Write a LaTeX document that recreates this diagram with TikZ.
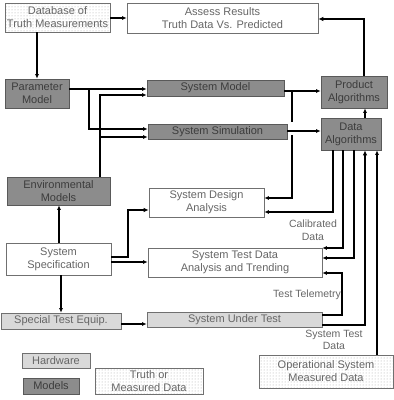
\documentclass[tikz,border=0pt]{standalone}
\usepackage{fontspec}
\setmainfont{Liberation Sans}
\usetikzlibrary{arrows.meta,patterns}
\definecolor{darkfill}{HTML}{8C8C8C}
\definecolor{lightfill}{HTML}{D9D9D9}
\definecolor{boxline}{HTML}{707070}
\definecolor{txtgray}{HTML}{666666}
\definecolor{txtdark}{HTML}{3C3C3C}
\tikzset{
  box/.style={draw=boxline, line width=0.6pt, inner sep=0pt, align=center,
    font=\fontsize{11}{13}\selectfont, text=txtgray},
  whitebox/.style={box, fill=white},
  modelbox/.style={box, fill=darkfill, draw=black!65, text=txtdark},
  hwbox/.style={box, fill=lightfill},
  truthbox/.style={box, pattern=dots, pattern color=black!35},
  conn/.style={line width=1.2pt},
  thick conn/.style={line width=1.9pt},
  arr/.style={conn, -{Latex[length=4.5pt,width=4pt]}},
  thick arr/.style={thick conn, -{Latex[length=5pt,width=4.5pt]}},
  lbl/.style={align=center, font=\fontsize{10.5}{12.5}\selectfont, text=txtgray, inner sep=0pt}
}
\begin{document}
\begin{tikzpicture}[x=1pt,y=-1pt]
\useasboundingbox (0,0) rectangle (394,400);
% boxes
\node[truthbox, minimum width=105pt, minimum height=29pt] (db) at (57.5,17.5) {Database of\\Truth Measurements};
\node[whitebox, minimum width=191pt, minimum height=30pt] (assess) at (222.5,18) {Assess Results\\Truth Data Vs. Predicted};
\node[modelbox, minimum width=64pt, minimum height=29pt] (param) at (37,93.5) {Parameter\\Model};
\node[modelbox, minimum width=137pt, minimum height=16pt] (sm) at (215.5,88) {System Model};
\node[modelbox, minimum width=139pt, minimum height=15pt] (ssim) at (217.5,131.5) {System Simulation};
\node[modelbox, minimum width=66pt, minimum height=32pt] (prod) at (354,92) {Product\\Algorithms};
\node[modelbox, minimum width=60pt, minimum height=32pt] (dalg) at (351,134) {Data\\Algorithms};
\node[modelbox, minimum width=103pt, minimum height=28pt] (env) at (58.5,191) {Environmental\\Models};
\node[whitebox, minimum width=115pt, minimum height=29pt] (sda) at (206.5,202.5) {System Design\\Analysis};
\node[whitebox, minimum width=105pt, minimum height=32pt] (spec) at (58.5,259) {System\\Specification};
\node[whitebox, minimum width=174pt, minimum height=29pt] (stdat) at (235,262.5) {System Test Data\\Analysis and Trending};
\node[hwbox, minimum width=120pt, minimum height=16pt] (ste) at (61,321) {Special Test Equip.};
\node[hwbox, minimum width=175pt, minimum height=15pt] (sut) at (234.5,319.5) {System Under Test};
\node[hwbox, minimum width=68pt, minimum height=15pt] (hw) at (56,360.5) {Hardware};
\node[modelbox, minimum width=56pt, minimum height=16pt] (mod) at (51,386) {Models};
\node[truthbox, minimum width=108pt, minimum height=26pt] (tmd) at (149,381) {Truth or\\Measured Data};
\node[truthbox, minimum width=134pt, minimum height=33pt] (osmd) at (326,371.5) {Operational System\\Measured Data};
% labels
\node[lbl] (lcal) at (313,230) {Calibrated\\Data};
\node[lbl] (ltel) at (307,295) {Test Telemetry};
\node[lbl] (lstd) at (334,340) {System Test\\Data};
% bend coordinates
\coordinate (pb) at (89,89);
\coordinate (eb) at (100,95);
\coordinate (smb) at (292,91);
\coordinate (ssb) at (292,135);
\coordinate (c333) at (333,212);
\coordinate (c343) at (343,248);
\coordinate (c354) at (354,258);
\coordinate (ctel) at (342,315);
\coordinate (cstd) at (365,325);
\coordinate (cpa) at (364,19);
\coordinate (csp) at (128,257);
% connectors
\draw[arr] (db.east |- 0,18) -- (assess.west |- 0,18);
\draw[arr] (db.south -| 37,0) -- (param.north -| 37,0);
\draw[arr] (param.east |- pb) -- (sm.west |- pb);
\draw[arr] (pb) -- (pb |- 0,129) -- (ssim.west |- 0,129);
\draw[arr] (env.north -| eb) -- (eb) -- (sm.west |- eb);
\draw[arr] (eb |- 0,137) -- (ssim.west |- 0,137);
\draw[arr] (sm.east |- smb) -- (prod.west |- smb);
\draw[conn] (smb) -- (smb |- 0,122);
\draw[arr] (ssim.east |- 0,131) -- (dalg.west |- 0,131);
\draw[arr] (ssb) -- (ssb |- 0,198) -- (sda.east |- 0,198);
\draw[arr] (dalg.south -| c333) -- (c333) -- (sda.east |- c333);
\draw[arr] (dalg.south -| c343) -- (c343) -- (stdat.east |- c343);
\draw[arr] (dalg.south -| c354) -- (c354) -- (stdat.east |- c354);
\draw[arr] (sut.east |- ctel) -- (ctel) -- (ctel |- 0,273) -- (stdat.east |- 0,273);
\draw[thick arr] (sut.east |- cstd) -- (cstd) -- (dalg.south -| cstd);
\draw[arr] (osmd.north -| 377,0) -- (dalg.south -| 377,0);
\draw[arr] (dalg.north -| 365,0) -- (prod.south -| 365,0);
\draw[thick arr] (prod.north -| cpa) -- (cpa) -- (assess.east |- cpa);
\draw[thick arr] (spec.east |- csp) -- (csp) -- (csp |- 0,210) -- (sda.west |- 0,210);
\draw[arr] (spec.east |- 0,262) -- (stdat.west |- 0,262);
\draw[arr] (spec.south -| 61,0) -- (ste.north -| 61,0);
\draw[arr] (spec.north -| 59,0) -- (env.south -| 59,0);
\draw[arr] (ste.east |- 0,324) -- (sut.west |- 0,324);
\end{tikzpicture}
\end{document}
